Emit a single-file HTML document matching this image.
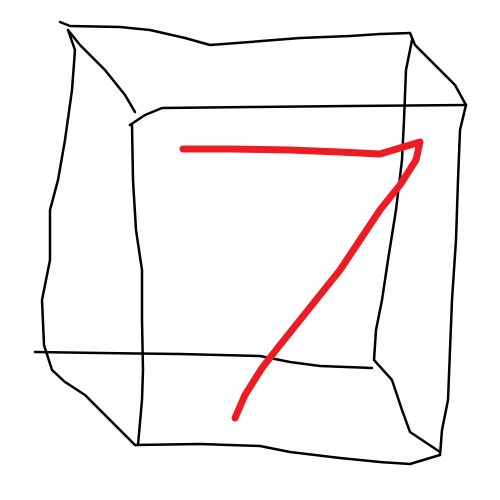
<!DOCTYPE html>
<html><head><meta charset="utf-8"><style>
html,body{margin:0;padding:0;background:#fff;width:500px;height:500px;overflow:hidden}
svg{display:block}
</style></head><body>
<svg width="500" height="500" viewBox="0 0 500 500">
<g fill="none" stroke="#000" stroke-width="2.5" stroke-linecap="round" stroke-linejoin="round">
<path d="M60,22 L70,26 L120,27 L150,30 L185,38 L210,45 L250,42 L300,38 L350,36 L380,34 L410,33"/>
<path d="M68,30 L75,50 L72,90 L65,140 L58,180 L50,210 L50,260 L42,300 L44,345 L52,370 L65,382 L85,395 L100,410 L118,428 L135,445"/>
<path d="M135,445 L200,444 L260,446 L290,452 L340,458 L380,462 L410,464 L440,455"/>
<path d="M440,455 L442,430 L448,400 L450,350 L452,300 L456,240 L458,180 L460,130 L466,105"/>
<path d="M410,33 L415,45 L435,65 L455,85 L466,105"/>
<path d="M412,40 L406,70 L404,120 L402,160 L396,210 L388,260 L382,300 L376,330 L374,360 L392,380 L402,410 L410,432 L425,442 L440,452"/>
<path d="M130,125 L145,115 L162,108 L250,107 L350,106 L466,105"/>
<path d="M132,125 L133,180 L136,230 L142,270 L142,320 L143,370 L142,400 L138,445"/>
<path d="M68,30 L80,45 L105,70 L125,95 L135,112"/>
<path d="M35,352 L100,353 L180,354 L260,356 L290,362 L320,366 L372,368"/>
</g>
<path fill="none" stroke="#ed1c24" stroke-width="7" stroke-linecap="round" stroke-linejoin="round" d="M183,149 L230,149 L290,150 L340,152 L380,154 L400,148 L420,142 L416,160 L400,185 L380,210 L360,240 L340,270 L320,295 L300,320 L280,345 L262,368 L245,395 L235,418"/>
</svg>
</body></html>
